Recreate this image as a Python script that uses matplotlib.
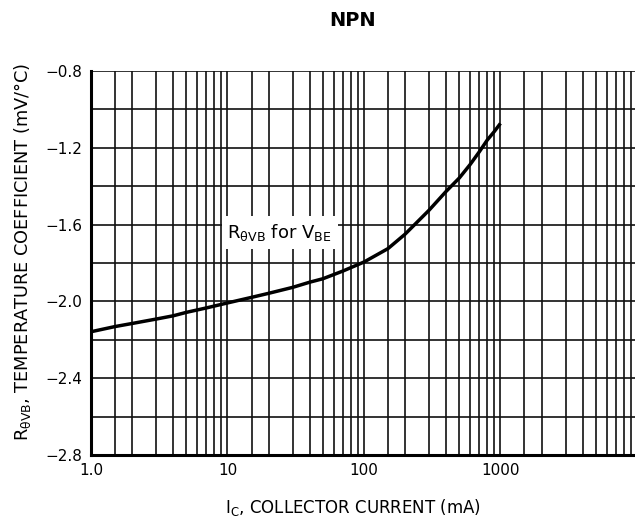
import matplotlib
matplotlib.use('Agg')
import matplotlib.pyplot as plt
from matplotlib import font_manager
from matplotlib.ticker import LogLocator, FixedLocator, MultipleLocator, NullFormatter

# curve
ic_ma = [1, 1.5, 2, 3, 4, 5, 7, 10, 15, 20, 30, 40, 50, 70, 100,
         150, 200, 300, 400, 500, 600, 700, 800, 900, 1000]
coef = [-2.158, -2.131, -2.115, -2.092, -2.075, -2.057, -2.034, -2.008, -1.979,
        -1.958, -1.927, -1.90, -1.882, -1.842, -1.795,
        -1.725, -1.65, -1.525, -1.427, -1.357, -1.287, -1.221, -1.16, -1.116, -1.073]

x_ticks = [1, 10, 100, 1000]
x_tick_labels = ['1.0', '10', '100', '1000']
y_ticks = [-0.8, -1.2, -1.6, -2.0, -2.4, -2.8]
y_tick_labels = ['\u22120.8', '\u22121.2', '\u22121.6', '\u22122.0', '\u22122.4', '\u22122.8']

# pick a narrow sans if one is there
fam = 'DejaVu Sans'
for name in ['Liberation Sans Narrow', 'DejaVu Sans Condensed', 'DejaVu Sans']:
    try:
        font_manager.findfont(font_manager.FontProperties(family=name), fallback_to_default=False)
        fam = name
        break
    except Exception:
        pass

plt.rcParams['font.family'] = [fam, 'DejaVu Sans']
plt.rcParams['mathtext.fontset'] = 'custom'
plt.rcParams['mathtext.rm'] = fam
plt.rcParams['mathtext.it'] = fam

fig = plt.figure(figsize=(6.35, 5.31), dpi=100)
ax = fig.add_axes([0.1433, 0.1431, 0.8597, 0.7232])

ax.set_xscale('log')
ax.set_xlim(1, 10000)
ax.set_ylim(-2.8, -0.8)

ax.xaxis.set_major_locator(FixedLocator(x_ticks))
ax.set_xticklabels(x_tick_labels)
ax.xaxis.set_minor_locator(LogLocator(base=10, subs=[1.5, 2, 3, 4, 5, 6, 7, 8, 9]))
ax.xaxis.set_minor_formatter(NullFormatter())
ax.set_yticks(y_ticks)
ax.set_yticklabels(y_tick_labels)
ax.yaxis.set_minor_locator(MultipleLocator(0.2))

ax.grid(True, which='both', color='#111111', linewidth=1.2)
ax.tick_params(which='both', length=0, labelsize=11, pad=6)
ax.set_axisbelow(True)

for s in ['top', 'right']:
    ax.spines[s].set_visible(False)
ax.spines['left'].set_linewidth(2.2)
ax.spines['bottom'].set_linewidth(2.2)

ax.plot(ic_ma, coef, color='black', linewidth=2.5, solid_capstyle='butt')

ax.text(10, -1.67, r'R$_{\mathregular{\theta VB}}$ for V$_{\mathregular{BE}}$',
        fontsize=13, ha='left', va='baseline',
        bbox=dict(facecolor='white', edgecolor='none', pad=4))

fig.text(0.555, 0.962, 'NPN', fontsize=14, fontweight='bold', ha='center', va='center')
fig.text(0.555, 0.044, r'I$_{\mathregular{C}}$, COLLECTOR CURRENT (mA)',
         fontsize=12, ha='center', va='center')
fig.text(0.035, 0.525, r'R$_{\mathregular{\theta VB}}$, TEMPERATURE COEFFICIENT (mV/' + '\u00b0C)',
         fontsize=12.8, ha='center', va='center', rotation=90)

fig.savefig('out.png', dpi=100)
